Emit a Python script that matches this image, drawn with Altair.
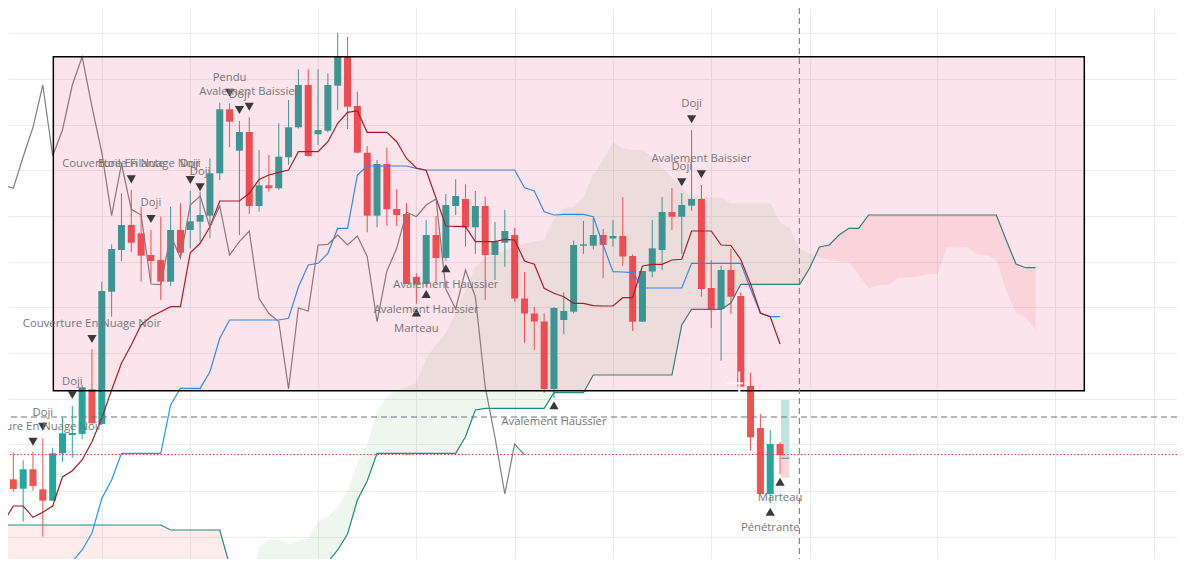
import altair as alt
import pandas as pd

# ---------------- candles (bar index 0..79) ----------------
opens = [10.93, 12.07, 11.13, 13.07, 11.07, 9.93, 14.67, 16.50, 16.60, 21.07,
         17.60, 30.83, 35.00, 37.50, 36.67, 34.50, 34.00, 31.83, 37.00, 37.00,
         37.83, 38.43, 42.67, 49.07, 44.93, 46.80, 39.40, 41.47, 41.17, 44.27,
         47.27, 51.50, 46.57, 46.93, 51.43, 54.33, 49.40, 44.73, 38.43, 43.60,
         39.10, 38.60, 32.30, 31.60, 36.50, 34.20, 39.40, 40.10, 37.27, 39.40,
         34.50, 35.73, 36.50, 30.15, 28.65, 27.85, 21.10, 28.00, 28.83, 35.43,
         35.43, 36.50, 36.15, 36.40, 34.40, 27.83, 32.85, 35.00, 38.80, 38.33,
         39.43, 40.10, 31.20, 29.10, 33.00, 30.40, 21.40, 17.20, 10.60, 15.60]
highs = [14.93, 14.77, 13.97, 14.83, 16.17, 15.23, 18.27, 19.40, 21.50, 25.07,
         31.83, 35.57, 40.67, 41.00, 39.33, 37.00, 38.33, 39.33, 39.67, 40.90,
         40.83, 44.17, 49.73, 49.67, 47.90, 48.27, 45.00, 44.50, 47.67, 50.00,
         53.07, 53.07, 53.07, 52.67, 56.73, 56.33, 50.83, 45.40, 44.00, 45.23,
         41.10, 39.67, 32.67, 38.00, 38.40, 40.60, 42.07, 41.57, 40.90, 40.33,
         37.80, 39.00, 37.20, 32.80, 29.30, 28.67, 29.30, 30.77, 35.93, 37.90,
         38.20, 37.10, 38.00, 40.30, 34.55, 32.90, 38.00, 40.30, 41.20, 40.70,
         47.00, 41.50, 34.00, 33.43, 35.10, 30.77, 22.73, 18.60, 17.00, 15.83]
lows = [10.23, 10.83, 7.83, 10.93, 6.33, 9.93, 13.83, 14.23, 16.10, 17.67,
        17.60, 28.33, 33.90, 34.80, 31.83, 31.83, 30.00, 31.40, 34.33, 35.17,
        35.83, 36.17, 42.00, 45.27, 36.50, 38.60, 38.83, 40.83, 41.00, 43.50,
        47.13, 44.33, 45.50, 46.77, 49.00, 47.10, 44.67, 36.77, 37.27, 37.43,
        37.40, 31.60, 29.65, 31.33, 31.67, 33.93, 38.50, 35.33, 34.60, 30.00,
        32.00, 33.33, 29.83, 25.73, 25.00, 20.73, 20.20, 26.57, 28.67, 34.60,
        35.07, 32.17, 35.33, 33.43, 26.90, 27.83, 32.27, 33.00, 37.00, 34.60,
        38.93, 30.33, 27.20, 23.93, 28.60, 21.33, 14.93, 10.60, 9.67, 12.60]
closes = [12.07, 11.10, 13.07, 11.40, 9.93, 14.67, 16.67, 16.70, 21.27, 17.67,
          30.90, 35.10, 37.50, 35.73, 34.43, 33.90, 31.83, 37.00, 34.73, 37.87,
          38.50, 42.67, 49.07, 47.83, 46.80, 39.40, 41.47, 41.17, 44.33, 47.27,
          51.50, 44.40, 47.00, 51.50, 54.33, 49.33, 44.73, 38.43, 43.60, 39.07,
          38.50, 31.60, 31.55, 36.50, 34.20, 39.50, 40.40, 37.27, 39.40, 34.50,
          35.83, 36.90, 30.15, 28.65, 27.85, 21.10, 29.20, 28.90, 35.50, 35.57,
          36.50, 35.50, 36.40, 34.35, 27.83, 32.90, 35.17, 38.80, 38.33, 39.50,
          40.10, 31.10, 29.10, 33.00, 30.33, 21.33, 16.27, 10.60, 15.60, 14.50]

# ---------------- Ichimoku lines ----------------
tenkan_start = -1
tenkan = [1.50, 7.83, 9.40, 9.40, 8.27, 8.77, 9.40, 12.30, 12.93, 14.00, 15.83,
          18.20, 21.00, 23.67, 25.50, 27.50, 28.33, 28.83, 29.33, 29.33, 34.73,
          35.67, 37.33, 39.90, 39.90, 39.90, 40.67, 42.05, 42.50, 42.77, 43.00,
          44.83, 44.83, 44.83, 45.83, 47.67, 48.77, 48.90, 46.77, 46.77, 46.77,
          45.83, 44.15, 43.20, 42.95, 40.20, 37.40, 37.37, 37.33, 35.83, 35.83,
          35.83, 36.07, 36.00, 33.90, 33.57, 31.17, 30.67, 30.33, 29.67, 29.67,
          29.43, 29.40, 29.40, 30.23, 30.23, 33.40, 33.57, 33.57, 34.00, 34.07,
          36.90, 36.90, 36.90, 35.50, 35.45, 34.05, 31.60, 28.70, 28.33, 25.60]
kijun_start = 5
kijun = [1.00, 3.40, 3.85, 5.00, 6.70, 10.15, 12.00, 14.67, 14.67, 14.67, 14.67, 14.67,
         19.50, 21.17, 21.17, 21.17, 22.83, 26.17, 28.00, 28.00, 28.00, 28.00, 28.00, 28.00, 28.17,
         31.30, 33.50, 33.67, 34.67, 37.17, 37.17, 42.50, 43.40, 43.40, 43.40, 43.40, 43.40, 43.17, 43.00,
         43.00, 43.00, 43.00, 43.00, 43.00, 43.00, 43.00, 43.00, 43.00,
         41.23, 40.90, 38.83, 38.50, 38.57, 38.57, 38.57, 38.33, 35.50, 32.83, 32.80, 32.73, 31.20,
         31.20, 31.20, 31.20, 31.20,
         33.67, 33.67, 33.67, 33.67, 33.67, 33.67,
         31.10, 28.67, 28.33, 28.33]
lag_shift = 26
senkou_a = [0.0, 0.0, 0.0, 0.0, 0.0, 0.0, 0.0, 0.0, 0.0, 0.0,
            0.0, 0.0, 0.0, 0.0, 0.0, 0.0, 0.0, 0.0, 0.0, 0.0,
            0.0, 0.0, 0.0, 0.0, 0.0, 0.0,
            5.33, 6.10, 6.05, 5.60, 5.90, 6.17, 7.83, 8.33, 9.33, 11.00,
            13.70, 15.50, 19.00, 20.33, 21.00, 21.30, 21.70, 24.20, 25.50, 26.70,
            28.70, 31.00, 33.30, 34.20, 34.50, 34.95, 35.30, 35.65, 35.85, 36.05,
            38.10, 39.20, 39.33, 40.33, 42.50, 44.00, 45.75, 45.17, 45.00, 45.00,
            44.25, 43.25, 42.25, 41.25, 40.33, 40.27, 40.27, 40.27, 39.67, 39.67,
            39.67, 39.67, 39.67, 37.80, 37.17, 35.10, 34.67, 34.25, 34.00, 33.90,
            33.83, 32.50, 31.17, 31.50, 31.50, 32.17, 32.25, 32.33, 32.60, 32.60,
            35.27, 35.27, 35.27, 34.60, 34.50, 34.00, 31.00, 28.67, 28.30, 27.00]
senkou_b = [7.50, 7.50, 7.50, 7.50, 7.50, 7.50, 7.50, 7.50, 7.50, 7.50,
            7.50, 7.50, 7.50, 7.50, 7.50, 7.50, 7.50,
            7.00, 7.00, 7.00, 7.00, 7.00, 7.00,
            3.50,
            0.0, 0.0, 0.0, 0.0, 0.0, 0.0, 0.0, 0.0,
            3.33, 3.80, 5.00, 6.60, 10.00, 11.90,
            14.67, 14.67, 14.67, 14.67, 14.67, 14.67, 14.67, 14.67, 14.67,
            16.33, 19.00,
            19.17, 19.17, 19.17, 19.17, 19.17, 19.17, 19.17,
            20.73, 20.73, 20.73, 20.73,
            22.50, 22.50, 22.50, 22.50, 22.50, 22.50, 22.50, 22.50, 22.50,
            27.50,
            29.07, 29.07, 29.07, 29.07,
            29.70,
            31.57, 31.57, 31.57, 31.57, 31.57, 31.57, 31.57,
            33.17, 35.30, 35.50, 36.50, 37.17, 37.17,
            38.50, 38.50, 38.50, 38.50, 38.50, 38.50, 38.50,
            38.50, 38.50, 38.50, 38.50, 38.50, 38.50, 38.50,
            36.00, 33.60, 33.23, 33.23]

# ---------------- grid, drawings, levels ----------------
x_grid = [10, 19, 32, 42, 52, 62, 72, 82, 95, 107, 117]
y_grid = [56.7, 52.1, 47.5, 43.0, 38.4, 33.8, 29.3, 24.7, 20.1, 15.6, 10.9, 6.3]
box = {"x1": [5.07], "x2": [109.95], "y1": [54.33], "y2": [20.92]}
crosshair_price = [18.30]
crosshair_bar = [80.96]
last_price = [14.55]
pos_x = [79.1, 79.1]
pos_x2 = [79.95, 79.95]
pos_top = [20.00, 14.17]
pos_bot = [14.17, 12.23]
pos_fill = ["#bfe3df", "#fbd6d9"]
cursor_x1 = [74.85, 73.6]
cursor_x2 = [74.85, 75.25]
cursor_y1 = [22.85, 21.67]
cursor_y2 = [20.50, 21.67]

# ---------------- pattern labels ----------------
down_bar = [3, 4, 7, 9, 13, 15, 19, 20, 23, 24, 25, 69, 70, 71]
down_mark = [15.83, 17.33, 20.50, 26.10, 42.07, 38.10, 42.00, 41.27, 50.73, 49.00, 49.33, 41.77, 48.07, 42.57]
up_bar = [42, 43, 45, 56, 78, 79]
up_mark = [28.75, 30.60, 33.17, 19.47, 8.83, 11.83]
label_bar = [3, 4, 7, 9, 13, 13, 15, 19, 20, 23, 24, 25, 69, 70, 71,
             42, 43, 45, 56, 78, 79]
label_price = [17.33, 18.73, 21.83, 27.60, 43.60, 43.60, 39.67, 43.60, 42.80, 52.20, 50.47, 50.83, 43.27, 49.60, 44.07,
               27.10, 29.05, 31.50, 17.80, 7.17, 10.23]
label_text = ["Couverture En Nuage Noir", "Doji", "Doji", "Couverture En Nuage Noir",
              "Couverture En Nuage Noir", "Etoile Filante", "Doji", "Doji", "Doji",
              "Pendu", "Doji", "Avalement Baissier", "Doji", "Doji", "Avalement Baissier",
              "Marteau", "Avalement Haussier", "Avalement Haussier", "Avalement Haussier",
              "Pénétrante", "Marteau"]

UP, DOWN = "#26a69a", "#ef5350"

# ---------------- frames ----------------
bars = pd.DataFrame({"i": list(range(len(opens))), "open": opens, "high": highs,
                     "low": lows, "close": closes})
bars["dir"] = ["up" if c >= o else "down" for o, c in zip(opens, closes)]
bars["top"] = bars[["open", "close"]].max(axis=1)
bars["bot"] = bars[["open", "close"]].min(axis=1)

tk = pd.DataFrame({"i": [tenkan_start + k for k in range(len(tenkan))], "v": tenkan})
kj = pd.DataFrame({"i": [kijun_start + k for k in range(len(kijun))], "v": kijun})
lag = pd.DataFrame({"i": [k - lag_shift for k in range(lag_shift - 1, len(closes))],
                    "v": closes[lag_shift - 1:]})
sb = pd.DataFrame({"i": list(range(len(senkou_b))), "v": senkou_b})

rows = []
for k in range(len(senkou_a)):
    a, b = senkou_a[k], senkou_b[k]
    rows.append((k, a, b))
    if k + 1 < len(senkou_a):
        d0 = a - b
        d1 = senkou_a[k + 1] - senkou_b[k + 1]
        if d0 * d1 < 0:
            t = d0 / (d0 - d1)
            v = a + t * (senkou_a[k + 1] - a)
            rows.append((k + t, v, v))
cloud = pd.DataFrame({
    "i": [r[0] for r in rows],
    "g_hi": [r[1] if r[1] >= r[2] else r[2] for r in rows],
    "g_lo": [r[2] for r in rows],
    "r_hi": [r[2] if r[2] > r[1] else r[1] for r in rows],
    "r_lo": [r[1] for r in rows],
})

XS = alt.Scale(domain=[0.458, 119.38], nice=False, zero=False, padding=0)
YS = alt.Scale(domain=[4.1, 59.2], nice=False, zero=False, padding=0)
XA = alt.Axis(values=x_grid, grid=True, labels=False, ticks=False, domain=False,
              title=None, gridColor="#ececec", gridWidth=1)
YA = alt.Axis(values=y_grid, grid=True, labels=False, ticks=False, domain=False,
              title=None, gridColor="#ececec", gridWidth=1)


def X(f):
    return alt.X(f"{f}:Q", scale=XS, axis=XA)


def Y(f):
    return alt.Y(f"{f}:Q", scale=YS, axis=YA)


dir_color = alt.Color("dir:N", scale=alt.Scale(domain=["up", "down"], range=[UP, DOWN]), legend=None)

layers = []
layers.append(alt.Chart(cloud).mark_area(color="#4caf50", opacity=0.1, clip=True)
              .encode(x=X("i"), y=Y("g_hi"), y2="g_lo"))
layers.append(alt.Chart(cloud).mark_area(color="#f44336", opacity=0.1, clip=True)
              .encode(x=X("i"), y=Y("r_hi"), y2="r_lo"))
pos = pd.DataFrame({"x1": pos_x, "x2": pos_x2, "y1": pos_top, "y2": pos_bot, "c": pos_fill})
layers.append(alt.Chart(pos).mark_rect(clip=True)
              .encode(x=X("x1"), x2="x2", y=Y("y1"), y2="y2", color=alt.Color("c:N", scale=None)))
layers.append(alt.Chart(pd.DataFrame({"x1": [pos_x[0]], "x2": [pos_x2[0]], "y": [pos_top[1]]}))
              .mark_rule(color="#787b86", strokeWidth=1, clip=True)
              .encode(x=X("x1"), x2="x2", y=Y("y")))
layers.append(alt.Chart(bars).mark_rule(strokeWidth=1, clip=True)
              .encode(x=X("i"), y=Y("low"), y2="high", color=dir_color))
layers.append(alt.Chart(bars).mark_bar(size=7, clip=True)
              .encode(x=X("i"), y=Y("bot"), y2="top", color=dir_color))
layers.append(alt.Chart(sb).mark_line(color="#22897b", strokeWidth=1.2, clip=True)
              .encode(x=X("i"), y=Y("v")))
layers.append(alt.Chart(kj).mark_line(color="#2196f3", strokeWidth=1.2, clip=True)
              .encode(x=X("i"), y=Y("v")))
layers.append(alt.Chart(tk).mark_line(color="#a11d21", strokeWidth=1.2, clip=True)
              .encode(x=X("i"), y=Y("v")))
layers.append(alt.Chart(lag).mark_line(color="#808080", strokeWidth=1.2, clip=True)
              .encode(x=X("i"), y=Y("v")))
layers.append(alt.Chart(pd.DataFrame(box)).mark_rect(fill="#e91e63", fillOpacity=0.12,
                                                     stroke="black", strokeWidth=1.5, clip=True)
              .encode(x=X("x1"), x2="x2", y=Y("y1"), y2="y2"))
layers.append(alt.Chart(pd.DataFrame({"x1": cursor_x1, "x2": cursor_x2, "y1": cursor_y1, "y2": cursor_y2}))
              .mark_rule(color="white", strokeWidth=2, opacity=0.9, clip=True)
              .encode(x=X("x1"), x2="x2", y=Y("y1"), y2="y2"))
layers.append(alt.Chart(pd.DataFrame({"p": last_price})).mark_rule(color="#f23645", strokeDash=[1.5, 2],
                                                                  strokeWidth=1.2)
              .encode(y=Y("p")))
layers.append(alt.Chart(pd.DataFrame({"p": crosshair_price})).mark_rule(color="#6d7280", strokeDash=[6, 4],
                                                                       strokeWidth=1)
              .encode(y=Y("p")))
layers.append(alt.Chart(pd.DataFrame({"i": crosshair_bar})).mark_rule(color="#6d7280", strokeDash=[6, 4],
                                                                     strokeWidth=1)
              .encode(x=X("i")))
layers.append(alt.Chart(pd.DataFrame({"i": down_bar, "p": down_mark}))
              .mark_point(shape="triangle-down", filled=True, size=85, color="#3a3a3a", opacity=1, clip=True)
              .encode(x=X("i"), y=Y("p")))
layers.append(alt.Chart(pd.DataFrame({"i": up_bar, "p": up_mark}))
              .mark_point(shape="triangle-up", filled=True, size=85, color="#3a3a3a", opacity=1, clip=True)
              .encode(x=X("i"), y=Y("p")))
layers.append(alt.Chart(pd.DataFrame({"i": label_bar, "p": label_price, "t": label_text}))
              .mark_text(font="Open Sans", fontSize=11.3, color="#767676", align="center",
                         baseline="middle", clip=True)
              .encode(x=X("i"), y=Y("p"), text="t:N"))

chart = (alt.layer(*layers)
         .properties(width=1169, height=551, padding=0, autosize="none", background="white")
         .configure_view(stroke=None))

chart.save("out.html", embed_options={"renderer": "svg", "actions": False})
